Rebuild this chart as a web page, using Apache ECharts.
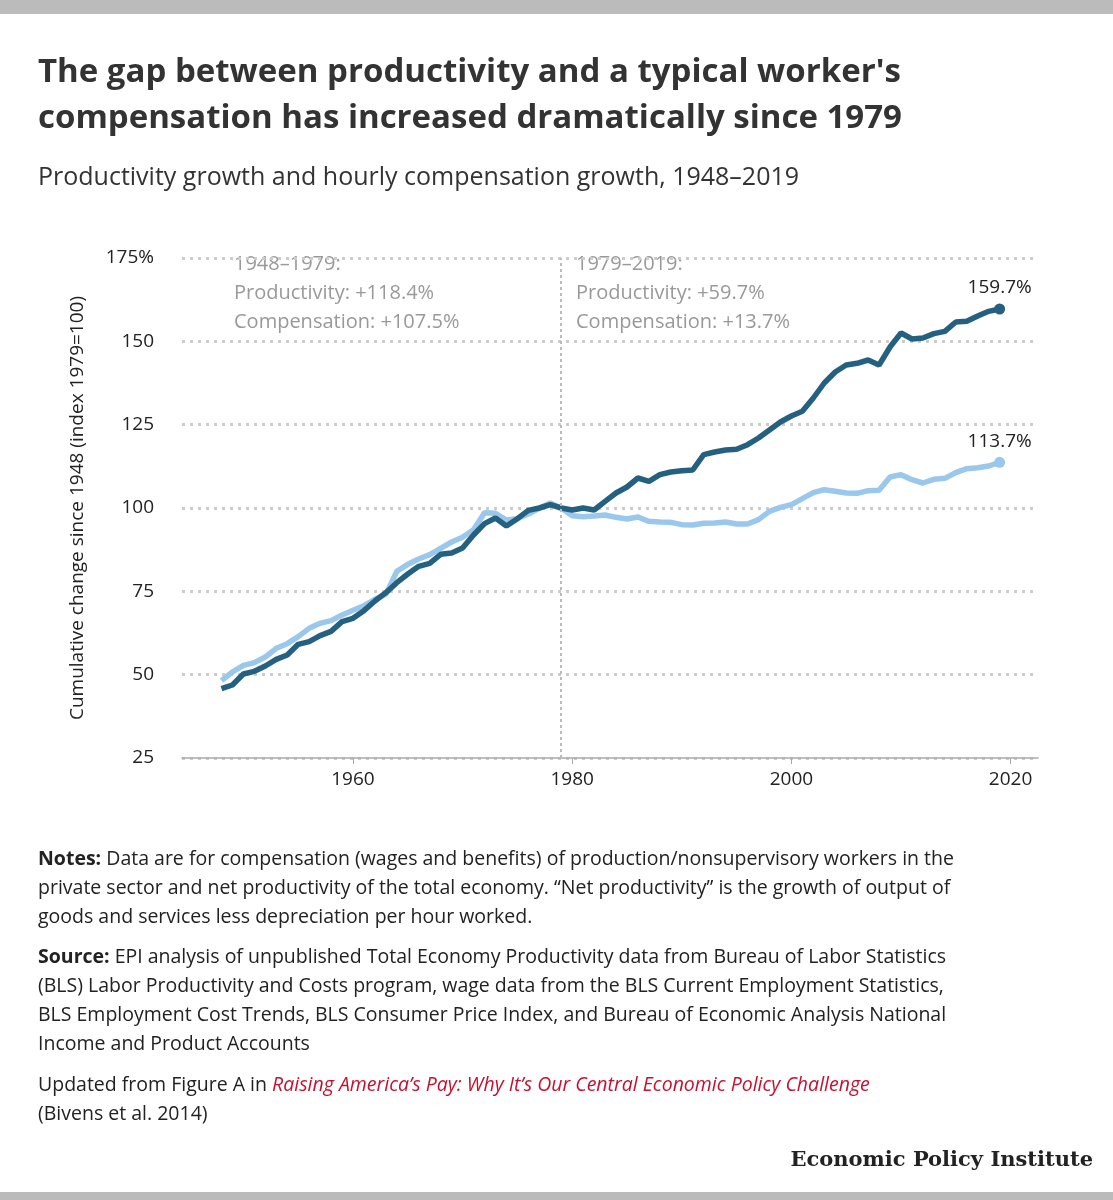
<!DOCTYPE html>
<html><head><meta charset="utf-8">
<script src="https://cdn.jsdelivr.net/npm/echarts@6/dist/echarts.min.js"></script>
<style>html,body{margin:0;padding:0;background:#fff}#c{width:1113px;height:1200px}</style>
</head><body><div id="c"></div>
<script>
const years = [];
for (let y = 1948; y <= 2019; y++) years.push(y);
const productivity = [45.8,46.9,50.2,51.0,52.6,54.6,55.9,59.1,59.9,61.7,63.0,65.9,66.9,69.2,72.1,74.6,77.6,80.2,82.5,83.4,86.1,86.5,88.0,91.9,95.3,97.0,94.6,96.8,99.3,100.0,101.0,100.0,
 99.4,100.0,99.4,102.0,104.5,106.3,109.0,108.0,110.0,110.8,111.2,111.4,116.0,116.8,117.4,117.6,119.0,121.0,123.4,125.8,127.6,129.0,133.0,137.5,140.8,142.9,143.4,144.4,142.9,148.3,152.5,150.7,151.0,152.3,153.0,155.8,156.0,157.6,159.0,159.7];
const compensation = [48.2,50.8,52.8,53.6,55.3,57.9,59.3,61.4,63.9,65.4,66.2,67.9,69.3,70.7,72.6,74.1,81.0,83.1,84.7,86.0,87.9,89.8,91.2,93.5,98.6,98.4,96.4,96.8,98.2,99.9,101.5,100.0,
 97.7,97.4,97.6,97.9,97.2,96.7,97.3,96.0,95.8,95.7,95.0,94.9,95.4,95.5,95.8,95.2,95.2,96.5,99.0,100.2,101.0,102.8,104.6,105.5,105.0,104.5,104.4,105.2,105.3,109.3,110.0,108.5,107.5,108.6,108.9,110.6,111.8,112.1,112.6,113.7];
const xTicks = [1960,1980,2000,2020];
const yTicks = [25,50,75,100,125,150,175];

const F = '"Open Sans", Lato, sans-serif';
const grey = '#999';
const chart = echarts.init(document.getElementById('c'));
const pairs = a => years.map((y,i)=>[y,a[i]]);
const txt = (left, top, text, style) => ({type:'text', left, top, style:Object.assign({text, font:'20px '+F, fill:'#333'}, style)});

chart.setOption({
  animation:false,
  grid:{left:182,right:75,top:258,bottom:442},
  xAxis:{type:'value',min:1944.4,max:2022.5,
    axisLine:{lineStyle:{color:'#aaa',width:1.5}},
    axisTick:{show:true,customValues:xTicks,length:6,lineStyle:{color:'#aaa'}},
    axisLabel:{customValues:xTicks,formatter:v=>String(v),fontFamily:F,fontSize:19,color:'#222',margin:12},
    splitLine:{show:false}},
  yAxis:{type:'value',min:25,max:175,interval:25,
    axisLine:{show:false},axisTick:{show:false},
    axisLabel:{fontFamily:F,fontSize:19,color:'#222',margin:28,formatter:v=>v===175?'175%':String(v)},
    splitLine:{lineStyle:{color:'#ccc',type:[3,5],width:3}},
    name:'Cumulative change since 1948 (index 1979=100)',nameLocation:'middle',nameGap:95,nameRotate:90,
    nameTextStyle:{fontFamily:F,fontSize:19,color:'#222'}},
  series:[
    {type:'line',data:pairs(compensation),symbol:'none',lineStyle:{color:'#9ac8ec',width:5.5},z:3,
     markLine:{symbol:'none',silent:true,label:{show:false},lineStyle:{color:'#bbb',type:[3,3],width:2},data:[{xAxis:1979}]},
     markPoint:{symbol:'circle',symbolSize:11,itemStyle:{color:'#9ac8ec'},data:[{coord:[2019,113.7],label:{show:true,position:'top',distance:6,formatter:'113.7%',fontFamily:F,fontSize:19,color:'#222'}}]}},
    {type:'line',data:pairs(productivity),symbol:'none',lineStyle:{color:'#24607f',width:5.5},z:4,
     markPoint:{symbol:'circle',symbolSize:11,itemStyle:{color:'#24607f'},data:[{coord:[2019,159.7],label:{show:true,position:'top',distance:6,formatter:'159.7%',fontFamily:F,fontSize:19,color:'#222'}}]}}
  ],
  graphic:[
    {type:'rect',left:0,top:0,shape:{width:1113,height:14},style:{fill:'#bbb'}},
    {type:'rect',left:0,top:1192,shape:{width:1113,height:8},style:{fill:'#bbb'}},
    txt(38,56,"The gap between productivity and a typical worker's",{font:'bold 33px '+F,fill:'#333'}),
    txt(38,102,"compensation has increased dramatically since 1979",{font:'bold 33px '+F,fill:'#333'}),
    txt(38,165,"Productivity growth and hourly compensation growth, 1948\u20132019",{font:'25px '+F,fill:'#333'}),
    txt(234,254,"1948\u20131979:",{fill:grey}),
    txt(234,283,"Productivity: +118.4%",{fill:grey}),
    txt(234,312,"Compensation: +107.5%",{fill:grey}),
    txt(576,254,"1979\u20132019:",{fill:grey}),
    txt(576,283,"Productivity: +59.7%",{fill:grey}),
    txt(576,312,"Compensation: +13.7%",{fill:grey}),
    {type:'text',left:38,top:845,style:{font:'19.5px '+F,fill:'#222',lineHeight:29,
      text:'{b|Notes:} Data are for compensation (wages and benefits) of production/nonsupervisory workers in the\nprivate sector and net productivity of the total economy. \u201cNet productivity\u201d is the growth of output of\ngoods and services less depreciation per hour worked.',
      rich:{b:{font:'bold 19.5px '+F,fill:'#222'}}}},
    {type:'text',left:38,top:943,style:{font:'19.5px '+F,fill:'#222',lineHeight:29,
      text:'{b|Source:} EPI analysis of unpublished Total Economy Productivity data from Bureau of Labor Statistics\n(BLS) Labor Productivity and Costs program, wage data from the BLS Current Employment Statistics,\nBLS Employment Cost Trends, BLS Consumer Price Index, and Bureau of Economic Analysis National\nIncome and Product Accounts',
      rich:{b:{font:'bold 19.5px '+F,fill:'#222'}}}},
    {type:'text',left:38,top:1071,style:{font:'19.5px '+F,fill:'#222',lineHeight:29,
      text:'Updated from Figure A in {r|Raising America\u2019s Pay: Why It\u2019s Our Central Economic Policy Challenge}\n(Bivens et al. 2014)',
      rich:{r:{font:'italic 19.5px '+F,fill:'#c8102e'}}}},
    {type:'text',right:20,top:1150,style:{text:'Economic Policy Institute',font:'bold 21px "DejaVu Serif", "Liberation Serif", serif',fill:'#222'}}
  ]
});
</script></body></html>
